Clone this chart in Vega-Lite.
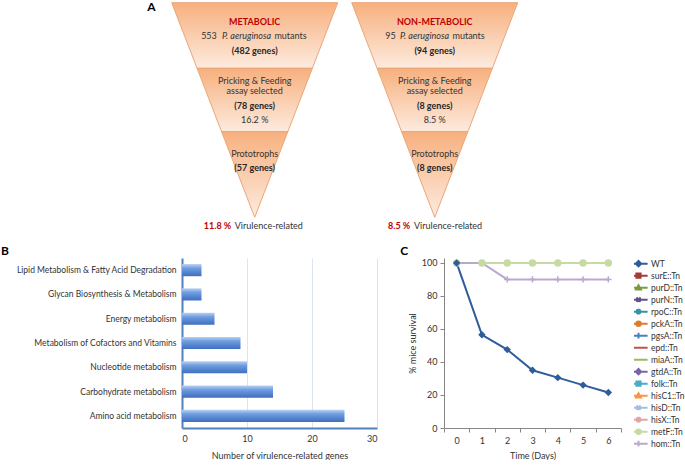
{
  "$schema": "https://vega.github.io/schema/vega-lite/v6.json",
  "padding": 0,
  "background": "white",
  "config": {"font": "Lato", "view": {"stroke": null}, "concat": {"spacing": 5}},
  "resolve": {"scale": {"fill": "independent", "stroke": "independent", "shape": "independent", "color": "independent"}, "legend": {"fill": "independent", "stroke": "independent", "shape": "independent", "color": "independent"}},
  "datasets": {
    "funnel": [
      {"band": "L1", "depth": 0, "left": -1, "right": 1},
      {"band": "L1", "depth": 0.3057, "left": -0.6943, "right": 0.6943},
      {"band": "L2", "depth": 0.3057, "left": -0.6943, "right": 0.6943},
      {"band": "L2", "depth": 0.601, "left": -0.399, "right": 0.399},
      {"band": "L3", "depth": 0.601, "left": -0.399, "right": 0.399},
      {"band": "L3", "depth": 1, "left": 0, "right": 0},
      {"band": "R1", "depth": 0, "left": 1.169, "right": 3.169},
      {"band": "R1", "depth": 0.3057, "left": 1.4747, "right": 2.8633},
      {"band": "R2", "depth": 0.3057, "left": 1.4747, "right": 2.8633},
      {"band": "R2", "depth": 0.601, "left": 1.77, "right": 2.568},
      {"band": "R3", "depth": 0.601, "left": 1.77, "right": 2.568},
      {"band": "R3", "depth": 1, "left": 2.169, "right": 2.169}
    ],
    "labels": [
      {"role": "panel", "text": "A", "x": -1.243, "depth": 0.022},
      {"role": "head", "text": "METABOLIC", "x": 0, "depth": 0.09},
      {"role": "plain", "text": "553", "x": -0.551, "depth": 0.155},
      {"role": "ital", "text": "P. aeruginosa", "x": -0.099, "depth": 0.155},
      {"role": "plain", "text": "mutants", "x": 0.431, "depth": 0.155},
      {"role": "bold", "text": "(482 genes)", "x": 0, "depth": 0.225},
      {"role": "plain", "text": "Pricking & Feeding", "x": 0, "depth": 0.365},
      {"role": "plain", "text": "assay selected", "x": 0, "depth": 0.411},
      {"role": "bold", "text": "(78 genes)", "x": 0, "depth": 0.481},
      {"role": "plain", "text": "16.2 %", "x": 0, "depth": 0.547},
      {"role": "plain", "text": "Prototrophs", "x": 0, "depth": 0.705},
      {"role": "bold", "text": "(57 genes)", "x": 0, "depth": 0.77},
      {"role": "head", "text": "11.8 %", "x": -0.448, "depth": 1.04},
      {"role": "plain", "text": "Virulence-related", "x": 0.17, "depth": 1.04},
      {"role": "head", "text": "NON-METABOLIC", "x": 2.169, "depth": 0.09},
      {"role": "plain", "text": "95", "x": 1.637, "depth": 0.155},
      {"role": "ital", "text": "P. aeruginosa", "x": 2.046, "depth": 0.155},
      {"role": "plain", "text": "mutants", "x": 2.577, "depth": 0.155},
      {"role": "bold", "text": "(94 genes)", "x": 2.169, "depth": 0.225},
      {"role": "plain", "text": "Pricking & Feeding", "x": 2.169, "depth": 0.365},
      {"role": "plain", "text": "assay selected", "x": 2.169, "depth": 0.411},
      {"role": "bold", "text": "(8 genes)", "x": 2.169, "depth": 0.481},
      {"role": "plain", "text": "8.5 %", "x": 2.169, "depth": 0.547},
      {"role": "plain", "text": "Prototrophs", "x": 2.169, "depth": 0.705},
      {"role": "bold", "text": "(8 genes)", "x": 2.169, "depth": 0.77},
      {"role": "head", "text": "8.5 %", "x": 1.74, "depth": 1.04},
      {"role": "plain", "text": "Virulence-related", "x": 2.33, "depth": 1.04}
    ],
    "bars": [
      {"pathway": "Lipid Metabolism & Fatty Acid Degradation", "genes": 3},
      {"pathway": "Glycan Biosynthesis & Metabolism", "genes": 3},
      {"pathway": "Energy metabolism", "genes": 5},
      {"pathway": "Metabolism of Cofactors and Vitamins", "genes": 9},
      {"pathway": "Nucleotide metabolism", "genes": 10},
      {"pathway": "Carbohydrate metabolism", "genes": 14},
      {"pathway": "Amino acid metabolism", "genes": 25}
    ],
    "survival": [
      {"day": "0", "WT": 100, "surE::Tn": 100, "purD::Tn": 100, "purN::Tn": 100, "rpoC::Tn": 100, "pckA::Tn": 100, "pgsA::Tn": 100, "epd::Tn": 100, "miaA::Tn": 100, "gtdA::Tn": 100, "folk::Tn": 100, "hisC1::Tn": 100, "hisD::Tn": 100, "hisX::Tn": 100, "metF::Tn": 100, "hom::Tn": 100},
      {"day": "1", "WT": 56.5, "surE::Tn": 100, "purD::Tn": 100, "purN::Tn": 100, "rpoC::Tn": 100, "pckA::Tn": 100, "pgsA::Tn": 100, "epd::Tn": 100, "miaA::Tn": 100, "gtdA::Tn": 100, "folk::Tn": 100, "hisC1::Tn": 100, "hisD::Tn": 100, "hisX::Tn": 100, "metF::Tn": 100, "hom::Tn": 100},
      {"day": "2", "WT": 47.5, "surE::Tn": 100, "purD::Tn": 100, "purN::Tn": 100, "rpoC::Tn": 100, "pckA::Tn": 100, "pgsA::Tn": 100, "epd::Tn": 100, "miaA::Tn": 100, "gtdA::Tn": 100, "folk::Tn": 100, "hisC1::Tn": 100, "hisD::Tn": 100, "hisX::Tn": 100, "metF::Tn": 100, "hom::Tn": 90},
      {"day": "3", "WT": 35, "surE::Tn": 100, "purD::Tn": 100, "purN::Tn": 100, "rpoC::Tn": 100, "pckA::Tn": 100, "pgsA::Tn": 100, "epd::Tn": 100, "miaA::Tn": 100, "gtdA::Tn": 100, "folk::Tn": 100, "hisC1::Tn": 100, "hisD::Tn": 100, "hisX::Tn": 100, "metF::Tn": 100, "hom::Tn": 90},
      {"day": "4", "WT": 30.5, "surE::Tn": 100, "purD::Tn": 100, "purN::Tn": 100, "rpoC::Tn": 100, "pckA::Tn": 100, "pgsA::Tn": 100, "epd::Tn": 100, "miaA::Tn": 100, "gtdA::Tn": 100, "folk::Tn": 100, "hisC1::Tn": 100, "hisD::Tn": 100, "hisX::Tn": 100, "metF::Tn": 100, "hom::Tn": 90},
      {"day": "5", "WT": 26, "surE::Tn": 100, "purD::Tn": 100, "purN::Tn": 100, "rpoC::Tn": 100, "pckA::Tn": 100, "pgsA::Tn": 100, "epd::Tn": 100, "miaA::Tn": 100, "gtdA::Tn": 100, "folk::Tn": 100, "hisC1::Tn": 100, "hisD::Tn": 100, "hisX::Tn": 100, "metF::Tn": 100, "hom::Tn": 90},
      {"day": "6", "WT": 21.5, "surE::Tn": 100, "purD::Tn": 100, "purN::Tn": 100, "rpoC::Tn": 100, "pckA::Tn": 100, "pgsA::Tn": 100, "epd::Tn": 100, "miaA::Tn": 100, "gtdA::Tn": 100, "folk::Tn": 100, "hisC1::Tn": 100, "hisD::Tn": 100, "hisX::Tn": 100, "metF::Tn": 100, "hom::Tn": 90}
    ]
  },
  "vconcat": [
    {
      "width": 495,
      "height": 240,
      "layer": [
        {
          "data": {"name": "funnel"},
          "mark": {"type": "area", "orient": "horizontal", "stroke": "#EBA677", "strokeWidth": 1,
            "color": {"gradient": "linear", "x1": 0, "y1": 0, "x2": 0, "y2": 1,
              "stops": [{"offset": 0, "color": "#F7B07E"}, {"offset": 1, "color": "#FDEBDF"}]}},
          "encoding": {
            "y": {"field": "depth", "type": "quantitative", "scale": {"domain": [-0.0126, 1.1058], "reverse": true, "nice": false, "zero": false}, "axis": null},
            "x": {"field": "left", "type": "quantitative", "scale": {"domain": [-0.876, 5.088], "nice": false, "zero": false}, "axis": null},
            "x2": {"field": "right"},
            "detail": {"field": "band"}
          }
        },
        {
          "data": {"name": "labels"},
          "transform": [{"filter": "datum.role === 'plain'"}],
          "mark": {"type": "text", "fontSize": 9, "color": "#333333", "baseline": "middle"},
          "encoding": {
            "y": {"field": "depth", "type": "quantitative", "scale": {"domain": [-0.0126, 1.1058], "reverse": true, "nice": false, "zero": false}, "axis": null},
            "x": {"field": "x", "type": "quantitative", "scale": {"domain": [-0.876, 5.088], "nice": false, "zero": false}, "axis": null},
            "text": {"field": "text"}
          }
        },
        {
          "data": {"name": "labels"},
          "transform": [{"filter": "datum.role === 'ital'"}],
          "mark": {"type": "text", "fontSize": 9, "fontStyle": "italic", "color": "#333333", "baseline": "middle"},
          "encoding": {
            "y": {"field": "depth", "type": "quantitative", "scale": {"domain": [-0.0126, 1.1058], "reverse": true, "nice": false, "zero": false}, "axis": null},
            "x": {"field": "x", "type": "quantitative", "scale": {"domain": [-0.876, 5.088], "nice": false, "zero": false}, "axis": null},
            "text": {"field": "text"}
          }
        },
        {
          "data": {"name": "labels"},
          "transform": [{"filter": "datum.role === 'bold'"}],
          "mark": {"type": "text", "fontSize": 9, "fontWeight": "bold", "color": "#262626", "baseline": "middle"},
          "encoding": {
            "y": {"field": "depth", "type": "quantitative", "scale": {"domain": [-0.0126, 1.1058], "reverse": true, "nice": false, "zero": false}, "axis": null},
            "x": {"field": "x", "type": "quantitative", "scale": {"domain": [-0.876, 5.088], "nice": false, "zero": false}, "axis": null},
            "text": {"field": "text"}
          }
        },
        {
          "data": {"name": "labels"},
          "transform": [{"filter": "datum.role === 'head'"}],
          "mark": {"type": "text", "fontSize": 9, "fontWeight": "bold", "color": "#C00000", "baseline": "middle"},
          "encoding": {
            "y": {"field": "depth", "type": "quantitative", "scale": {"domain": [-0.0126, 1.1058], "reverse": true, "nice": false, "zero": false}, "axis": null},
            "x": {"field": "x", "type": "quantitative", "scale": {"domain": [-0.876, 5.088], "nice": false, "zero": false}, "axis": null},
            "text": {"field": "text"}
          }
        },
        {
          "data": {"name": "labels"},
          "transform": [{"filter": "datum.role === 'panel'"}],
          "mark": {"type": "text", "fontSize": 12, "fontWeight": "bold", "color": "#000000", "baseline": "middle"},
          "encoding": {
            "y": {"field": "depth", "type": "quantitative", "scale": {"domain": [-0.0126, 1.1058], "reverse": true, "nice": false, "zero": false}, "axis": null},
            "x": {"field": "x", "type": "quantitative", "scale": {"domain": [-0.876, 5.088], "nice": false, "zero": false}, "axis": null},
            "text": {"field": "text"}
          }
        }
      ]
    },
    {
      "spacing": 23,
      "resolve": {"scale": {"fill": "independent", "stroke": "independent", "shape": "independent", "color": "independent"}, "legend": {"fill": "independent", "stroke": "independent", "shape": "independent", "color": "independent"}},
      "hconcat": [
        {
          "title": {"text": "B", "anchor": "start", "frame": "bounds", "fontSize": 12, "fontWeight": "bold", "color": "#000000", "dx": -15, "offset": 0},
          "width": 195,
          "height": 170,
          "data": {"name": "bars"},
          "mark": {"type": "bar",
            "color": {"gradient": "linear", "x1": 0, "y1": 0, "x2": 0, "y2": 1,
              "stops": [{"offset": 0, "color": "#BBD1F2"}, {"offset": 0.35, "color": "#6E9DE0"}, {"offset": 1, "color": "#3E6EBF"}]}},
          "encoding": {
            "y": {"field": "pathway", "type": "nominal", "sort": null,
              "scale": {"paddingInner": 0.5, "paddingOuter": 0.25},
              "axis": {"title": null, "domainColor": "#4F81BD", "domainWidth": 2, "ticks": false, "labelPadding": 6, "labelFontSize": 8.5, "labelColor": "#333333", "labelLimit": 300}},
            "x": {"field": "genes", "type": "quantitative", "scale": {"domain": [0, 30], "nice": false},
              "axis": {"values": [0, 10, 20, 30], "title": "Number of virulence-related genes", "titleFontSize": 9, "titleFontWeight": "normal", "titleColor": "#333333", "titlePadding": 8,
                "grid": true, "gridColor": "#DCE4EE", "domainColor": "#4F81BD", "domainWidth": 2, "ticks": false, "labelPadding": 6, "labelFontSize": 9, "labelColor": "#333333"}}
          }
        },
        {
          "title": {"text": "C", "anchor": "start", "frame": "bounds", "fontSize": 12, "fontWeight": "bold", "color": "#000000", "dx": -8, "offset": 0},
          "width": 177,
          "height": 170,
          "data": {"name": "survival"},
          "transform": [{"fold": ["WT", "surE::Tn", "purD::Tn", "purN::Tn", "rpoC::Tn", "pckA::Tn", "pgsA::Tn", "epd::Tn", "miaA::Tn", "gtdA::Tn", "folk::Tn", "hisC1::Tn", "hisD::Tn", "hisX::Tn", "metF::Tn", "hom::Tn"], "as": ["series", "survival"]}],
          "encoding": {
            "x": {"field": "day", "type": "ordinal", "bandPosition": 0.5,
              "scale": {"type": "band", "paddingInner": 0, "paddingOuter": 0},
              "axis": {"title": "Time (Days)", "titleFontSize": 9, "titleFontWeight": "normal", "titleColor": "#333333", "titlePadding": 6,
                "labelAngle": 0, "tickBand": "extent", "domainColor": "#868686", "tickColor": "#868686", "tickSize": 4, "labelPadding": 4, "labelFontSize": 9, "labelColor": "#333333"}},
            "y": {"field": "survival", "type": "quantitative", "scale": {"domain": [0, 103], "nice": false},
              "axis": {"values": [0, 20, 40, 60, 80, 100], "title": "% mice survival", "titleFontSize": 9, "titleFontWeight": "normal", "titleColor": "#333333", "titlePadding": 4,
                "grid": false, "domainColor": "#868686", "tickColor": "#868686", "tickSize": 4, "labelPadding": 3, "labelFontSize": 9, "labelColor": "#333333"}}
          },
          "layer": [
            {
              "transform": [{"filter": "datum.day === '0'"}],
              "mark": {"type": "point", "filled": true, "opacity": 0},
              "encoding": {
                "fill": {"field": "series", "type": "nominal",
                  "scale": {"domain": ["WT", "surE::Tn", "purD::Tn", "purN::Tn", "rpoC::Tn", "pckA::Tn", "pgsA::Tn", "epd::Tn", "miaA::Tn", "gtdA::Tn", "folk::Tn", "hisC1::Tn", "hisD::Tn", "hisX::Tn", "metF::Tn", "hom::Tn"],
                    "range": ["#2F5C9A", "#A33B37", "#7A9A3E", "#654F8A", "#3593A8", "#E07A2E", "#4A7EC0", "#C0504D", "#9BBB59", "#7E62A6", "#4BACC6", "#F79646", "#A5BEE0", "#E3A5A3", "#C5DBA2", "#B9A9CF"]},
                  "legend": {"title": null, "symbolSize": 49, "symbolStrokeWidth": 2, "symbolOpacity": 1, "labelFontSize": 8.5, "labelColor": "#333333", "labelOffset": 8, "rowPadding": 0, "clipHeight": 11.3, "offset": 13}},
                "stroke": {"field": "series", "type": "nominal",
                  "scale": {"domain": ["WT", "surE::Tn", "purD::Tn", "purN::Tn", "rpoC::Tn", "pckA::Tn", "pgsA::Tn", "epd::Tn", "miaA::Tn", "gtdA::Tn", "folk::Tn", "hisC1::Tn", "hisD::Tn", "hisX::Tn", "metF::Tn", "hom::Tn"],
                    "range": ["#2F5C9A", "#A33B37", "#7A9A3E", "#654F8A", "#3593A8", "#E07A2E", "#4A7EC0", "#C0504D", "#9BBB59", "#7E62A6", "#4BACC6", "#F79646", "#A5BEE0", "#E3A5A3", "#C5DBA2", "#B9A9CF"]},
                  "legend": {"title": null, "symbolSize": 49, "symbolStrokeWidth": 2, "symbolOpacity": 1, "labelFontSize": 8.5, "labelColor": "#333333", "labelOffset": 8, "rowPadding": 0, "clipHeight": 11.3, "offset": 13}},
                "shape": {"field": "series", "type": "nominal",
                  "scale": {"domain": ["WT", "surE::Tn", "purD::Tn", "purN::Tn", "rpoC::Tn", "pckA::Tn", "pgsA::Tn", "epd::Tn", "miaA::Tn", "gtdA::Tn", "folk::Tn", "hisC1::Tn", "hisD::Tn", "hisX::Tn", "metF::Tn", "hom::Tn"],
                    "range": [
                      "M-2.6,0H2.6M0,-0.75L0.75,0L0,0.75L-0.75,0Z",
                      "M-2.6,0H2.6M-0.6,-0.6H0.6V0.6H-0.6Z",
                      "M-2.6,0H2.6M0,-0.7L0.7,0.55H-0.7Z",
                      "M-2.6,0H2.6M-0.6,-0.6L0.6,0.6M-0.6,0.6L0.6,-0.6",
                      "M-2.6,0H2.6M-0.6,-0.6L0.6,0.6M-0.6,0.6L0.6,-0.6M0,-0.8V0.8",
                      "M-2.6,0H2.6M-0.65,0A0.65,0.65 0 1,0 0.65,0A0.65,0.65 0 1,0 -0.65,0Z",
                      "M-2.6,0H2.6M0,-0.8V0.8",
                      "M-2.6,0H2.6",
                      "M-2.6,0H2.6",
                      "M-2.6,0H2.6M0,-0.75L0.75,0L0,0.75L-0.75,0Z",
                      "M-2.6,0H2.6M-0.6,-0.6H0.6V0.6H-0.6Z",
                      "M-2.6,0H2.6M0,-0.7L0.7,0.55H-0.7Z",
                      "M-2.6,0H2.6M-0.6,-0.6L0.6,0.6M-0.6,0.6L0.6,-0.6",
                      "M-2.6,0H2.6M-0.6,-0.6L0.6,0.6M-0.6,0.6L0.6,-0.6M0,-0.8V0.8",
                      "M-2.6,0H2.6M-0.65,0A0.65,0.65 0 1,0 0.65,0A0.65,0.65 0 1,0 -0.65,0Z",
                      "M-2.6,0H2.6M0,-0.8V0.8"
                    ]},
                  "legend": {"title": null, "symbolSize": 49, "symbolStrokeWidth": 2, "symbolOpacity": 1, "labelFontSize": 8.5, "labelColor": "#333333", "labelOffset": 8, "rowPadding": 0, "clipHeight": 11.3, "offset": 13}}
              }
            },
            {
              "mark": {"type": "line", "strokeWidth": 2},
              "encoding": {
                "color": {"field": "series", "type": "nominal", "legend": null,
                  "scale": {"domain": ["WT", "surE::Tn", "purD::Tn", "purN::Tn", "rpoC::Tn", "pckA::Tn", "pgsA::Tn", "epd::Tn", "miaA::Tn", "gtdA::Tn", "folk::Tn", "hisC1::Tn", "hisD::Tn", "hisX::Tn", "metF::Tn", "hom::Tn"],
                    "range": ["#2F5C9A", "#A33B37", "#7A9A3E", "#654F8A", "#3593A8", "#E07A2E", "#4A7EC0", "#C0504D", "#9BBB59", "#7E62A6", "#4BACC6", "#F79646", "#A5BEE0", "#E3A5A3", "#C5DBA2", "#B9A9CF"]}}
              }
            },
            {
              "transform": [{"filter": "datum.series === 'metF::Tn'"}],
              "mark": {"type": "point", "filled": true, "shape": "circle", "size": 55, "color": "#C5DBA2", "opacity": 1}
            },
            {
              "transform": [{"filter": "datum.series === 'hom::Tn' && datum.survival < 100"}],
              "mark": {"type": "point", "filled": false, "shape": "M0,-1V1M-1,0H1", "size": 40, "color": "#B9A9CF", "strokeWidth": 1.5, "opacity": 1}
            },
            {
              "transform": [{"filter": "datum.series === 'WT'"}],
              "mark": {"type": "point", "filled": true, "shape": "diamond", "size": 55, "color": "#2F5C9A", "opacity": 1}
            }
          ]
        }
      ]
    }
  ]
}
